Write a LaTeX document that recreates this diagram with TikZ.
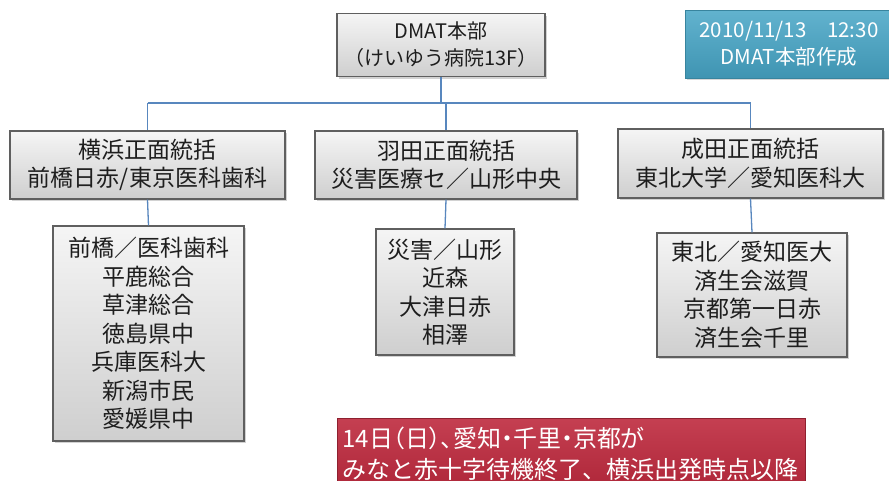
\documentclass[tikz,border=0pt]{standalone}
\usepackage{fontspec}
\setmainfont{Noto Sans CJK JP}
\usetikzlibrary{shadows}
\definecolor{linkblue}{RGB}{88,135,190}
\definecolor{boxedge}{RGB}{95,95,95}
\definecolor{tealbox}{RGB}{70,165,198}
\definecolor{redbox}{RGB}{190,42,62}
\definecolor{inktext}{RGB}{30,30,30}
\tikzset{
  graybox/.style={draw=boxedge, line width=1.2pt, top color=gray!8, bottom color=gray!38,
    text=inktext, align=center, inner sep=0pt,
    drop shadow={opacity=0.35, shadow xshift=2pt, shadow yshift=-2pt},
    font=\fontsize{23}{28.5}\selectfont},
  link/.style={draw=linkblue, line width=1.3pt},
}
\begin{document}
\begin{tikzpicture}[x=1pt,y=-1pt]
\useasboundingbox (0,0) rectangle (889,480);
\fill[white] (0,0) rectangle (889,480);
\clip (0,0) rectangle (889,480);

% top HQ
\node[graybox, minimum width=208pt, minimum height=63pt, font=\fontsize{20}{27}\selectfont] (hq) at (441,45) {DMAT本部\\（けいゆう病院13F）};

% date box
\node[top color=tealbox!85!white, bottom color=tealbox!90!black, draw=tealbox!80!black, line width=0.8pt, text=white, align=center, inner sep=0pt,
  minimum width=208pt, minimum height=68pt, font=\fontsize{20.5}{27}\selectfont,
  drop shadow={opacity=0.3, shadow xshift=2pt, shadow yshift=-2pt}] (date) at (789,44)
  {2010/11/13\quad 12:30\\DMAT本部作成};

% middle row
\node[graybox, minimum width=275pt, minimum height=68pt] (yoko) at (147.5,165) {横浜正面統括\\前橋日赤/東京医科歯科};
\node[graybox, minimum width=262pt, minimum height=68pt] (haneda) at (446,165) {羽田正面統括\\災害医療セ／山形中央};
\node[graybox, minimum width=265pt, minimum height=69pt] (narita) at (750.5,163.5) {成田正面統括\\東北大学／愛知医科大};

% bottom row
\node[graybox, minimum width=191pt, minimum height=215pt] (yokoL) at (148.5,333.5)
  {前橋／医科歯科\\平鹿総合\\草津総合\\徳島県中\\兵庫医科大\\新潟市民\\愛媛県中};
\node[graybox, minimum width=138pt, minimum height=126pt] (hanedaL) at (445,292)
  {災害／山形\\近森\\大津日赤\\相澤};
\node[graybox, minimum width=190pt, minimum height=124pt] (naritaL) at (752,295)
  {東北／愛知医大\\済生会滋賀\\京都第一日赤\\済生会千里};

% red note
\node[top color=redbox!90!white, bottom color=redbox!92!black, draw=redbox!75!black, line width=0.8pt, text=white, align=left, anchor=north west,
  inner xsep=5pt, inner ysep=3pt, text width=458pt, minimum height=70pt,
  font=\fontsize{24}{31}\selectfont] (note) at (337,418)
  {{\addfontfeature{RawFeature=+palt}14日（日）、愛知・千里・京都が}\\みなと赤十字待機終了、横浜出発時点以降};

% connectors
\coordinate (bus) at (441,103);
\draw[link] (hq.south) -- (bus);
\draw[link] (yoko.north |- bus) -- (narita.north |- bus);
\draw[link] (yoko.north |- bus) -- (yoko.north);
\draw[link] (haneda.north |- bus) -- (haneda.north);
\draw[link] (narita.north |- bus) -- (narita.north);
\draw[link] (yoko.south) -- (yokoL.north);
\draw[link] (haneda.south) -- (hanedaL.north);
\draw[link] (narita.south) -- (naritaL.north);
\end{tikzpicture}
\end{document}
